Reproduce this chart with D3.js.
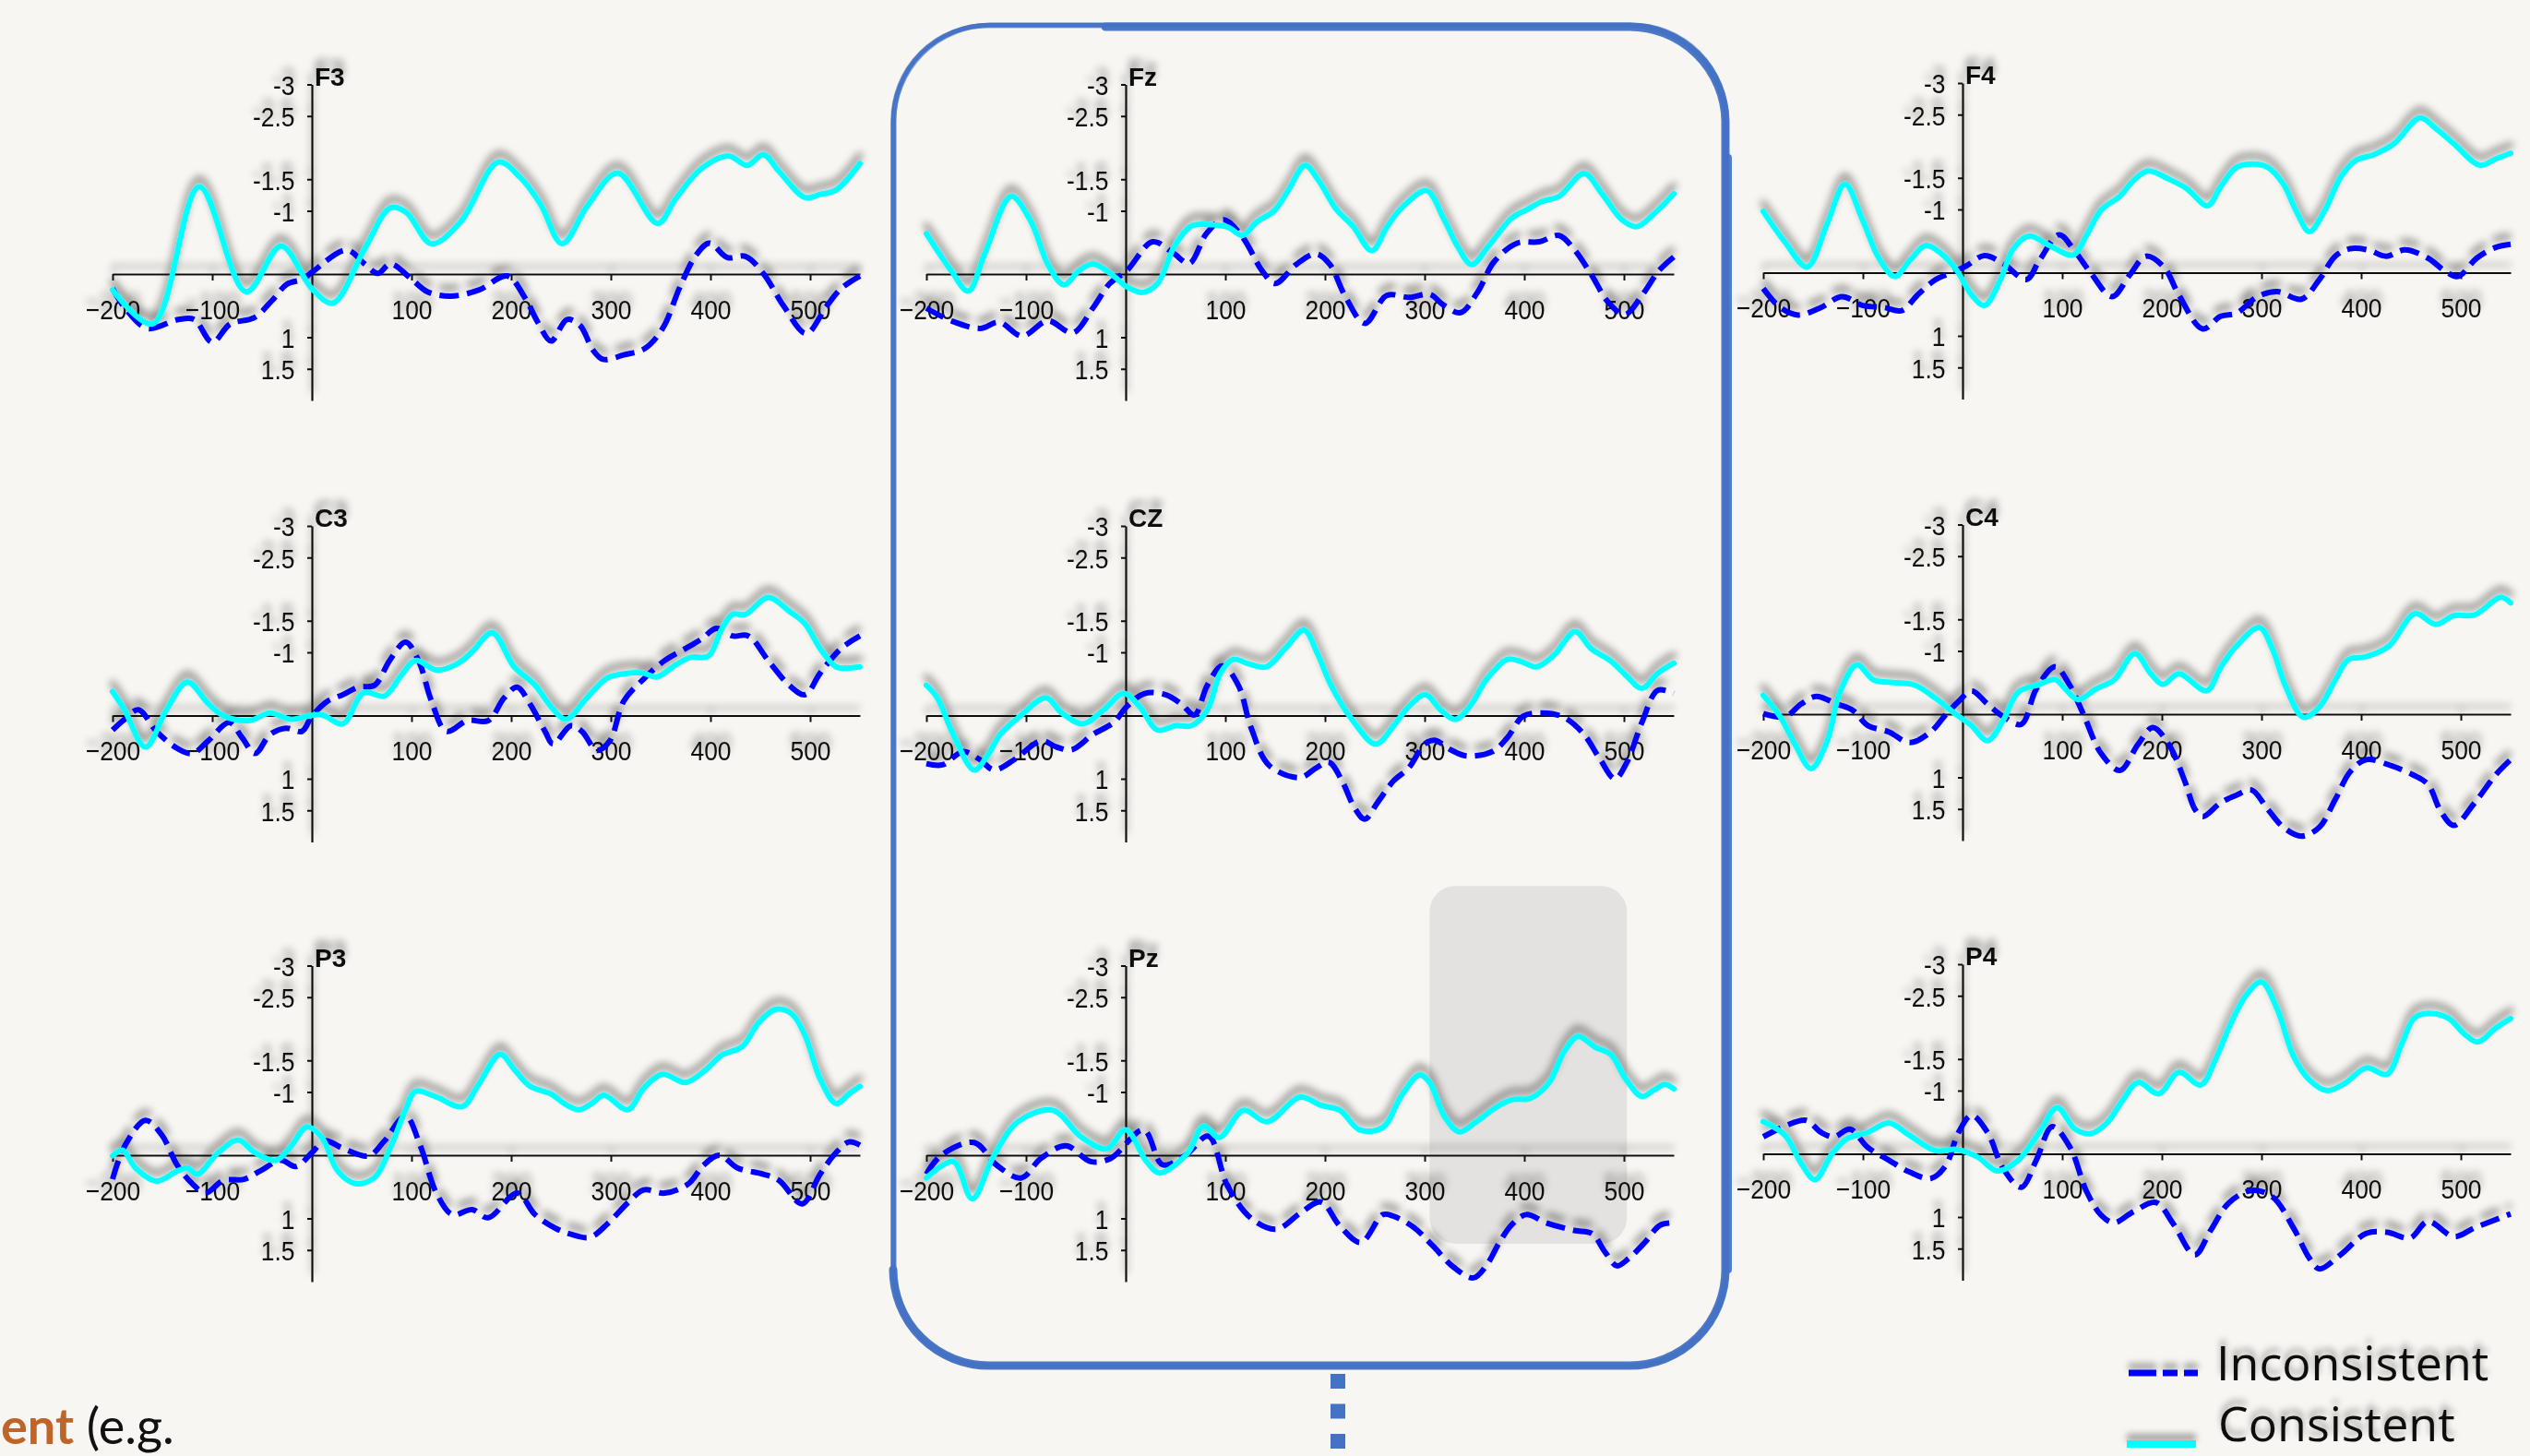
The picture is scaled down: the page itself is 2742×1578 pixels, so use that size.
<!DOCTYPE html>
<html><head><meta charset="utf-8">
<script src="https://cdn.jsdelivr.net/npm/d3@7"></script>
<style>
html,body{margin:0;padding:0;background:#f7f6f2;overflow:hidden}
svg{display:block}
</style></head><body>
<svg id="chart" width="2742" height="1578"></svg>
<script>
// ---------- data ----------
const electrodes = ["F3","Fz","F4","C3","CZ","C4","P3","Pz","P4"];
const seriesNames = ["Inconsistent","Consistent"];
const xTicks = [-200,-100,100,200,300,400,500];
const yTicks = [-3,-2.5,-1.5,-1,1,1.5];
const highlightWindow = [305,503];   // ms, grey box in Pz

const F3_consistent = [[-200,0.25],[-160,0.79],[-113,-1.38],[-66,0.28],[-31,-0.44],[0,0.23],[21,0.46],[53,-0.4],[79,-1.05],[95,-0.97],[120,-0.48],[149,-0.82],[187,-1.77],[209,-1.53],[230,-1.09],[251,-0.48],[277,-1.09],[307,-1.6],[347,-0.8],[365,-1.19],[391,-1.67],[418,-1.87],[437,-1.72],[453,-1.89],[469,-1.62],[495,-1.21],[510,-1.26],[526,-1.33],[550,-1.75]];
const F3_inconsistent = [[-200,0.23],[-186,0.57],[-165,0.86],[-134,0.72],[-118,0.72],[-100,1.08],[-82,0.79],[-58,0.69],[-40,0.42],[-25,0.16],[-9,0.08],[1,-0.04],[35,-0.38],[53,-0.16],[66,-0.01],[79,-0.16],[100,0.08],[116,0.28],[139,0.35],[168,0.25],[196,0.03],[214,0.38],[227,0.77],[240,1.06],[256,0.72],[269,0.81],[282,1.2],[292,1.35],[313,1.28],[334,1.18],[352,0.86],[370,0.18],[386,-0.31],[399,-0.49],[417,-0.26],[435,-0.28],[453,-0.01],[474,0.52],[496,0.94],[516,0.52],[531,0.23],[550,0.03]];

const Fz_consistent = [[-200,-0.64],[-175,-0.05],[-158,0.27],[-141,-0.34],[-115,-1.23],[-95,-0.83],[-78,-0.15],[-62,0.17],[-47,-0.05],[-33,-0.16],[-16,-0.02],[1,0.2],[17,0.29],[32,0.15],[49,-0.44],[66,-0.76],[86,-0.78],[103,-0.74],[117,-0.61],[132,-0.83],[149,-1.0],[163,-1.32],[180,-1.72],[194,-1.47],[211,-1.03],[228,-0.76],[247,-0.37],[262,-0.74],[276,-1.03],[302,-1.32],[319,-0.88],[333,-0.44],[347,-0.15],[364,-0.44],[387,-0.88],[404,-1.03],[418,-1.15],[435,-1.23],[460,-1.59],[478,-1.27],[498,-0.86],[513,-0.75],[532,-0.98],[550,-1.27]];
const Fz_inconsistent = [[-200,0.54],[-175,0.74],[-146,0.86],[-127,0.76],[-104,0.98],[-78,0.74],[-53,0.93],[-33,0.54],[-16,0.15],[1,-0.05],[27,-0.51],[47,-0.34],[64,-0.17],[81,-0.64],[98,-0.86],[117,-0.59],[137,-0.05],[150,0.15],[171,-0.15],[191,-0.32],[205,-0.15],[220,0.34],[240,0.78],[262,0.34],[285,0.37],[305,0.32],[319,0.49],[336,0.61],[353,0.29],[370,-0.2],[393,-0.49],[415,-0.51],[435,-0.61],[450,-0.39],[467,0],[484,0.44],[501,0.64],[518,0.34],[535,-0.05],[550,-0.27]];

const F4_consistent = [[-200,-0.97],[-178,-0.48],[-156,-0.09],[-136,-0.77],[-118,-1.4],[-100,-0.82],[-84,-0.23],[-68,0.06],[-53,-0.19],[-37,-0.43],[-22,-0.31],[-6,-0.04],[9,0.35],[22,0.52],[38,0.11],[51,-0.38],[67,-0.58],[87,-0.43],[111,-0.28],[124,-0.58],[139,-0.99],[158,-1.21],[171,-1.45],[186,-1.61],[207,-1.48],[225,-1.33],[246,-1.06],[259,-1.36],[275,-1.67],[291,-1.72],[306,-1.67],[322,-1.4],[335,-0.97],[348,-0.65],[363,-0.97],[379,-1.5],[394,-1.77],[413,-1.87],[433,-2.04],[459,-2.45],[475,-2.28],[493,-2.04],[519,-1.7],[535,-1.8],[550,-1.89]];
const F4_inconsistent = [[-200,0.25],[-183,0.55],[-165,0.67],[-142,0.55],[-121,0.38],[-100,0.52],[-79,0.55],[-61,0.6],[-45,0.35],[-27,0.11],[-11,0],[4,-0.11],[22,-0.27],[41,-0.14],[64,0.11],[77,-0.19],[97,-0.6],[113,-0.33],[129,0.01],[150,0.38],[168,0.03],[184,-0.26],[202,-0.09],[217,0.35],[241,0.89],[259,0.69],[275,0.64],[296,0.38],[316,0.3],[340,0.42],[358,0.11],[374,-0.26],[389,-0.38],[407,-0.36],[425,-0.26],[444,-0.36],[467,-0.23],[483,-0.04],[497,0.06],[516,-0.23],[535,-0.4],[550,-0.45]];

const C3_consistent = [[-200,-0.38],[-188,-0.09],[-167,0.5],[-146,-0.09],[-125,-0.53],[-104,-0.19],[-89,0],[-63,0.08],[-42,-0.04],[-21,0.06],[-5,0.01],[10,-0.01],[31,0.13],[52,-0.36],[73,-0.31],[89,-0.62],[104,-0.87],[125,-0.72],[146,-0.82],[161,-1.01],[181,-1.31],[203,-0.77],[224,-0.48],[240,-0.14],[255,0.06],[276,-0.28],[297,-0.6],[318,-0.67],[333,-0.67],[346,-0.61],[365,-0.8],[380,-0.92],[398,-0.94],[411,-1.36],[422,-1.6],[435,-1.6],[458,-1.87],[479,-1.65],[495,-1.45],[510,-1.06],[526,-0.77],[536,-0.75],[550,-0.77]];
const C3_inconsistent = [[-200,0.23],[-188,0.06],[-174,-0.09],[-156,0.25],[-135,0.52],[-120,0.6],[-104,0.4],[-83,0.11],[-70,0.35],[-57,0.6],[-42,0.3],[-26,0.2],[-10,0.25],[0,0.01],[16,-0.23],[31,-0.33],[47,-0.45],[63,-0.48],[78,-0.87],[94,-1.16],[107,-0.87],[120,-0.23],[135,0.25],[156,0.08],[177,0.08],[193,-0.28],[206,-0.45],[219,-0.18],[234,0.25],[242,0.45],[260,0.16],[271,0.25],[286,0.55],[299,0.4],[313,-0.23],[333,-0.58],[354,-0.87],[375,-1.06],[391,-1.21],[406,-1.38],[422,-1.26],[438,-1.26],[458,-0.87],[479,-0.48],[495,-0.33],[510,-0.67],[531,-1.06],[550,-1.26]];

const CZ_consistent = [[-200,-0.48],[-189,-0.28],[-173,0.3],[-152,0.86],[-139,0.64],[-126,0.3],[-106,0.01],[-80,-0.28],[-64,-0.04],[-43,0.13],[-22,-0.09],[-2,-0.35],[14,-0.14],[32,0.23],[50,0.16],[66,0.16],[82,-0.09],[95,-0.67],[108,-0.89],[123,-0.82],[141,-0.77],[160,-1.06],[179,-1.35],[193,-0.96],[206,-0.48],[227,0.06],[251,0.45],[269,0.16],[284,-0.14],[301,-0.33],[316,-0.09],[331,0.06],[347,-0.18],[362,-0.57],[383,-0.89],[396,-0.86],[412,-0.77],[430,-0.96],[451,-1.33],[467,-1.06],[487,-0.86],[503,-0.62],[518,-0.43],[534,-0.67],[550,-0.83]];
const CZ_inconsistent = [[-200,0.76],[-184,0.78],[-163,0.57],[-147,0.69],[-132,0.86],[-111,0.69],[-85,0.4],[-69,0.5],[-54,0.54],[-33,0.3],[-12,0.11],[1,-0.14],[19,-0.35],[40,-0.33],[56,-0.18],[69,-0.01],[82,-0.48],[97,-0.79],[113,-0.48],[126,0.2],[144,0.79],[175,0.98],[191,0.83],[204,0.74],[217,1.03],[230,1.47],[240,1.64],[253,1.37],[269,1.03],[284,0.83],[300,0.45],[310,0.39],[326,0.54],[342,0.64],[368,0.57],[383,0.35],[399,0.01],[419,-0.04],[440,0.03],[460,0.3],[476,0.69],[491,1.0],[503,0.74],[518,0.11],[534,-0.4],[550,-0.35]];

const C4_consistent = [[-200,-0.3],[-183,0.04],[-168,0.48],[-152,0.86],[-136,0.43],[-123,-0.35],[-106,-0.78],[-89,-0.54],[-69,-0.5],[-48,-0.46],[-27,-0.25],[-6,0.01],[9,0.18],[25,0.42],[41,0.09],[56,-0.35],[77,-0.47],[93,-0.55],[103,-0.4],[116,-0.23],[134,-0.4],[152,-0.54],[173,-0.96],[189,-0.64],[201,-0.47],[217,-0.64],[245,-0.37],[259,-0.74],[275,-1.08],[298,-1.37],[311,-1.03],[324,-0.45],[342,0.05],[358,-0.11],[374,-0.54],[387,-0.86],[405,-0.91],[428,-1.08],[454,-1.59],[475,-1.42],[493,-1.56],[514,-1.57],[540,-1.85],[550,-1.76]];
const C4_inconsistent = [[-200,-0.01],[-178,0.04],[-162,-0.16],[-147,-0.28],[-126,-0.16],[-110,-0.06],[-95,0.18],[-74,0.28],[-53,0.45],[-32,0.28],[-17,0.01],[-4,-0.2],[9,-0.37],[25,-0.16],[41,0.04],[59,0.16],[74,-0.4],[93,-0.75],[106,-0.5],[121,-0.01],[139,0.62],[158,0.89],[176,0.48],[191,0.21],[207,0.48],[223,1.06],[233,1.5],[241,1.62],[259,1.4],[275,1.28],[290,1.2],[306,1.5],[322,1.79],[340,1.93],[358,1.79],[374,1.35],[389,0.91],[405,0.72],[431,0.82],[452,0.96],[467,1.11],[480,1.54],[493,1.76],[514,1.4],[535,0.96],[550,0.72]];

const P3_consistent = [[-200,0.01],[-190,-0.08],[-177,0.2],[-156,0.41],[-135,0.25],[-125,0.2],[-115,0.3],[-94,-0.04],[-74,-0.24],[-57,-0.04],[-36,0.08],[-21,-0.14],[-5,-0.45],[10,-0.28],[26,0.25],[44,0.45],[63,0.35],[78,-0.09],[94,-0.72],[104,-1.01],[125,-0.92],[151,-0.77],[167,-1.11],[189,-1.6],[203,-1.36],[219,-1.09],[240,-0.97],[255,-0.8],[268,-0.72],[281,-0.82],[293,-0.95],[317,-0.72],[333,-1.06],[352,-1.28],[375,-1.15],[396,-1.36],[411,-1.58],[432,-1.72],[448,-2.09],[466,-2.31],[482,-2.23],[495,-1.89],[510,-1.21],[526,-0.82],[539,-0.97],[550,-1.09]];
const P3_inconsistent = [[-200,0.38],[-188,-0.14],[-167,-0.55],[-151,-0.33],[-135,0.16],[-120,0.45],[-107,0.6],[-89,0.4],[-68,0.38],[-52,0.25],[-31,0.08],[-16,0.18],[0,-0.04],[13,-0.23],[31,-0.11],[57,0.01],[73,-0.23],[94,-0.62],[109,-0.14],[125,0.6],[141,0.94],[161,0.86],[177,0.99],[206,0.6],[224,0.94],[245,1.16],[260,1.25],[279,1.3],[297,1.08],[318,0.74],[333,0.55],[354,0.6],[378,0.45],[393,0.16],[409,0],[427,0.2],[453,0.3],[469,0.4],[492,0.77],[510,0.3],[526,-0.04],[539,-0.21],[550,-0.16]];

const Pz_consistent = [[-200,0.36],[-173,0.1],[-154,0.69],[-133,0.03],[-108,-0.53],[-73,-0.71],[-44,-0.28],[-19,-0.1],[0,-0.4],[21,0.1],[34,0.28],[62,-0.03],[78,-0.46],[94,-0.28],[118,-0.71],[142,-0.53],[175,-0.92],[196,-0.79],[215,-0.71],[235,-0.4],[258,-0.44],[277,-0.95],[295,-1.27],[305,-1.15],[320,-0.61],[335,-0.37],[351,-0.52],[372,-0.76],[388,-0.88],[406,-0.9],[425,-1.15],[440,-1.64],[454,-1.88],[471,-1.71],[487,-1.59],[502,-1.2],[518,-0.93],[530,-1.03],[541,-1.12],[550,-1.05]];
const Pz_inconsistent = [[-200,0.3],[-185,0.0],[-152,-0.2],[-130,0.15],[-105,0.36],[-85,0.05],[-60,-0.15],[-35,0.1],[-15,0.05],[18,-0.4],[37,0.15],[60,0.0],[83,-0.3],[102,0.48],[126,1.0],[151,1.17],[175,0.92],[196,0.74],[215,1.12],[236,1.38],[258,0.94],[268,0.96],[289,1.14],[308,1.43],[329,1.77],[349,1.94],[363,1.72],[375,1.38],[388,1.09],[402,0.94],[422,1.07],[450,1.19],[468,1.24],[481,1.53],[493,1.75],[505,1.63],[521,1.38],[536,1.11],[550,1.07]];

const P4_consistent = [[-200,-0.51],[-178,-0.29],[-162,0.15],[-148,0.41],[-131,0],[-116,-0.24],[-95,-0.34],[-74,-0.49],[-53,-0.29],[-27,-0.05],[-6,-0.07],[15,0.05],[35,0.27],[56,0.1],[77,-0.34],[95,-0.73],[113,-0.39],[129,-0.32],[145,-0.49],[160,-0.83],[176,-1.13],[197,-0.95],[217,-1.29],[239,-1.09],[254,-1.5],[270,-2.09],[285,-2.52],[300,-2.72],[316,-2.28],[332,-1.55],[348,-1.17],[366,-1.0],[384,-1.12],[405,-1.36],[426,-1.26],[441,-1.75],[454,-2.16],[472,-2.22],[488,-2.14],[504,-1.89],[517,-1.77],[535,-1.99],[550,-2.14]];
const P4_inconsistent = [[-200,-0.27],[-178,-0.44],[-157,-0.53],[-142,-0.34],[-129,-0.27],[-113,-0.39],[-95,-0.1],[-74,0.1],[-53,0.29],[-32,0.39],[-17,0.19],[-4,-0.34],[9,-0.61],[25,-0.34],[41,0.24],[59,0.53],[74,0.1],[90,-0.43],[108,-0.1],[124,0.58],[139,0.97],[152,1.09],[171,0.92],[194,0.77],[212,1.12],[233,1.6],[249,1.21],[267,0.78],[290,0.58],[311,0.68],[332,1.17],[348,1.65],[358,1.82],[379,1.6],[405,1.26],[426,1.24],[449,1.33],[467,1.07],[493,1.31],[514,1.17],[550,0.95]];

const panelSeries = {
  F3:[F3_inconsistent,F3_consistent], Fz:[Fz_inconsistent,Fz_consistent], F4:[F4_inconsistent,F4_consistent],
  C3:[C3_inconsistent,C3_consistent], CZ:[CZ_inconsistent,CZ_consistent], C4:[C4_inconsistent,C4_consistent],
  P3:[P3_inconsistent,P3_consistent], Pz:[Pz_inconsistent,Pz_consistent], P4:[P4_inconsistent,P4_consistent]
};

// ---------- layout / style ----------
const W = 2742, H = 1578;
const BG = "#f7f6f2";
const INC_COLOR = "#0000ff", CON_COLOR = "#00ffff", FRAME = "#4472c4";
const colX = [338, 1220, 2127];
const rowY = [297, 775.5, 1252];
const PX = 1.08, PY = 68.5;   // px per ms, px per µV
const tickFont = "'Liberation Sans', Arial, Helvetica, sans-serif";

const svg = d3.select("#chart");
svg.append("rect").attr("width", W).attr("height", H).attr("fill", BG);

const defs = svg.append("defs");
function makeShadow(id, blur, dy, op) {
  const f = defs.append("filter").attr("id", id)
    .attr("filterUnits", "userSpaceOnUse").attr("x", 0).attr("y", 0).attr("width", W).attr("height", H);
  f.append("feGaussianBlur").attr("in", "SourceAlpha").attr("stdDeviation", blur).attr("result", "b");
  f.append("feOffset").attr("in", "b").attr("dx", 0).attr("dy", dy).attr("result", "o");
  f.append("feFlood").attr("flood-color", "#000").attr("flood-opacity", op).attr("result", "c");
  f.append("feComposite").attr("in", "c").attr("in2", "o").attr("operator", "in").attr("result", "s");
  const m = f.append("feMerge");
  m.append("feMergeNode").attr("in", "s");
  m.append("feMergeNode").attr("in", "SourceGraphic");
}
makeShadow("shadow", 4, -9, 0.45);
makeShadow("shadowText", 3.5, -7, 0.35);

// grey highlight box in Pz (behind everything)
{
  const cx = colX[1], cy = rowY[2];
  const x = d3.scaleLinear().domain([-200, 550]).range([cx - 200 * PX, cx + 550 * PX]);
  const y = d3.scaleLinear().domain([-3, 2]).range([cy - 3 * PY, cy + 2 * PY]);
  svg.append("rect")
    .attr("x", x(highlightWindow[0])).attr("width", x(highlightWindow[1]) - x(highlightWindow[0]))
    .attr("y", y(-4.26)).attr("height", y(1.4) - y(-4.26))
    .attr("rx", 28).attr("fill", "#e3e2e0");
}

const plots = svg.append("g").attr("filter", "url(#shadow)");

electrodes.forEach((name, i) => {
  const c = i % 3, r = Math.floor(i / 3);
  const cx = colX[c], cy = rowY[r] + (c === 2 ? -1.5 : 0);
  const x = d3.scaleLinear().domain([-200, 550]).range([cx - 200 * PX, cx + 550 * PX]);
  const y = d3.scaleLinear().domain([-3, 2]).range([cy - 3 * PY, cy + 2 * PY]);
  const g = plots.append("g").attr("class", "panel");

  // x axis
  const gx = g.append("g").attr("transform", `translate(0,${y(0)})`)
    .call(d3.axisBottom(x).tickValues(xTicks).tickSize(7).tickSizeOuter(0).tickFormat(d3.format("d")));
  gx.attr("font-family", tickFont);
  gx.select(".domain").attr("stroke", "#111").attr("stroke-width", 2.2);
  gx.selectAll(".tick line").attr("stroke", "#111").attr("stroke-width", 2);
  gx.selectAll(".tick text").attr("y", 49).attr("dy", null)
    .attr("transform", "scale(0.88,1)")
    .attr("font-family", tickFont).attr("font-size", 30).attr("fill", "#111");

  // y axis
  const gy = g.append("g").attr("transform", `translate(${x(0)},0)`)
    .call(d3.axisLeft(y).tickValues(yTicks).tickSize(5).tickSizeOuter(0).tickFormat(d => String(d)));
  gy.attr("font-family", tickFont);
  gy.select(".domain").attr("stroke", "#111").attr("stroke-width", 2.2);
  gy.selectAll(".tick line").attr("stroke", "#111").attr("stroke-width", 2);
  gy.selectAll(".tick text").attr("x", -21).attr("dy", "0.36em")
    .attr("transform", "scale(0.88,1)")
    .attr("font-family", tickFont).attr("font-size", 30).attr("fill", "#111");

  // panel title
  g.append("text").attr("x", x(0) + 3).attr("y", y(-3) + 1)
    .attr("font-family", tickFont).attr("font-weight", "bold").attr("font-size", 28)
    .attr("fill", "#111").text(name);

  // series
  const line = d3.line().x(d => x(d[0])).y(d => y(d[1])).curve(d3.curveCatmullRom.alpha(0.5));
  const [inc, con] = panelSeries[name];
  g.append("path").datum(inc).attr("d", line).attr("fill", "none")
    .attr("stroke", INC_COLOR).attr("stroke-width", 6).attr("stroke-dasharray", "21,9")
    .attr("stroke-linejoin", "round");
  g.append("path").datum(con).attr("d", line).attr("fill", "none")
    .attr("stroke", CON_COLOR).attr("stroke-width", 6)
    .attr("stroke-linejoin", "round").attr("stroke-linecap", "round");
});

// ---------- hand-drawn frame around the midline column ----------
function rrPath(x0, y0, x1, y1, r) {
  return `M${x0 + r},${y0} H${x1 - r} A${r},${r} 0 0 1 ${x1},${y0 + r} V${y1 - r} A${r},${r} 0 0 1 ${x1 - r},${y1} H${x0 + r} A${r},${r} 0 0 1 ${x0},${y1 - r} V${y0 + r} A${r},${r} 0 0 1 ${x0 + r},${y0} Z`;
}
const frame = svg.append("g").attr("fill", "none").attr("stroke", FRAME).attr("stroke-linecap", "round");
const fx0 = 968, fy0 = 27, fx1 = 1870, fy1 = 1480, fr = 104;
[[0, 0, 4.5, 0.95], [2, 1.5, 2.5, 0.7], [-1.5, 2.5, 2, 0.6], [2.5, -1.5, 2, 0.6], [-2, -1, 1.5, 0.5]].forEach(([dx, dy, sw, op]) => {
  frame.append("path").attr("d", rrPath(fx0 + dx, fy0 + dy, fx1 + dx, fy1 + dy, fr))
    .attr("stroke-width", sw).attr("opacity", op);
});
// heavier strokes on top-right, right and bottom sides
frame.append("path")
  .attr("d", `M${fx0 + 230},${fy0 + 2} H${fx1 - fr} A${fr},${fr} 0 0 1 ${fx1},${fy0 + fr} V${fy1 - fr} A${fr},${fr} 0 0 1 ${fx1 - fr},${fy1} H${fx0 + fr} A${fr},${fr} 0 0 1 ${fx0},${fy1 - fr}`)
  .attr("stroke-width", 9).attr("opacity", 0.95);
frame.append("path")
  .attr("d", `M${fx1 + 3},${fy0 + fr + 40} V${fy1 - fr}`)
  .attr("stroke-width", 8).attr("opacity", 0.9);
// dotted connector below the frame
for (let k = 0; k < 3; k++) {
  svg.append("rect").attr("x", 1442).attr("y", 1489 + k * 32.5).attr("width", 16).attr("height", 16).attr("fill", FRAME);
}

// ---------- legend ----------
const legend = svg.append("g").attr("filter", "url(#shadowText)");
legend.append("line").attr("x1", 2307).attr("x2", 2382).attr("y1", 1488).attr("y2", 1488)
  .attr("stroke", INC_COLOR).attr("stroke-width", 7).attr("stroke-dasharray", "30,7,16,7,15,40");
legend.append("line").attr("x1", 2305).attr("x2", 2380).attr("y1", 1565).attr("y2", 1565)
  .attr("stroke", CON_COLOR).attr("stroke-width", 8);
legend.append("text").attr("x", 2402).attr("y", 1496).attr("font-family", "'Open Sans', sans-serif")
  .attr("font-size", 52).attr("fill", "#111").text(seriesNames[0]);
legend.append("text").attr("x", 2404).attr("y", 1562).attr("font-family", "'Open Sans', sans-serif")
  .attr("font-size", 52).attr("fill", "#111").text(seriesNames[1]);

// ---------- caption fragment at bottom-left ----------
const cap = svg.append("text").attr("x", 1).attr("y", 1565)
  .attr("font-family", "Lato, 'Open Sans', sans-serif").attr("font-size", 54);
cap.append("tspan").attr("font-weight", "bold").attr("fill", "#c1642a").text("ent");
cap.append("tspan").attr("fill", "#111").text(" (e.g.");
</script>
</body></html>
